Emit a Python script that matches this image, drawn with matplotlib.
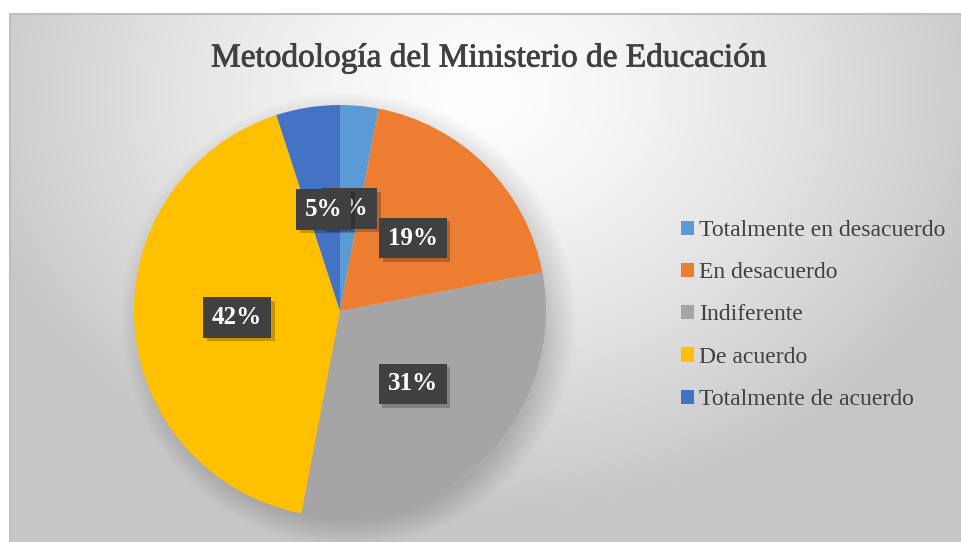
import numpy as np
import matplotlib
matplotlib.use('Agg')
import matplotlib.pyplot as plt
import matplotlib.patheffects as pe

plt.rcParams['font.family'] = ['Liberation Serif', 'DejaVu Serif']

# datos
categorias = ['Totalmente en desacuerdo', 'En desacuerdo', 'Indiferente',
              'De acuerdo', 'Totalmente de acuerdo']
porcentajes = [3, 19, 31, 42, 5]
colores = ['#5B9BD5', '#ED7D31', '#A5A5A5', '#FFC000', '#4472C4']
titulo = 'Metodología del Ministerio de Educación'

W, H = 962, 542
fig = plt.figure(figsize=(W / 100, H / 100), dpi=100)
fig.patch.set_facecolor('white')

# fondo con degradado radial
bg = fig.add_axes([10 / W, 0, (W - 10) / W, (H - 14) / H])
bg.set_zorder(0)
yy, xx = np.mgrid[0:H - 14, 0:W - 10]
d = np.sqrt(((xx - 470) / 1.25) ** 2 + (yy - 80) ** 2)
g = 1.0 - 0.22 * np.clip(d / 420, 0, 1) ** 1.3
bg.imshow(np.dstack([g, g, g]), aspect='auto', interpolation='bilinear')
bg.set_axis_off()
fig.add_artist(plt.Line2D([10 / W, 10 / W, 1], [0, (H - 14) / H, (H - 14) / H],
                          color='#bfbfbf', lw=1.5, transform=fig.transFigure))

# tarta
cx, cy, r = 340, 311, 206
ax = fig.add_axes([(cx - r) / W, (H - cy - r) / H, 2 * r / W, 2 * r / H])
ax.set_zorder(1)
ax.patch.set_alpha(0)

# sombra suave (abajo a la derecha)
for k in range(12):
    sh = plt.Circle((0.04, -0.04), 0.97 + 0.012 * k, color='black',
                    alpha=0.013, lw=0, zorder=0, clip_on=False)
    ax.add_patch(sh)

wedges, texts, autotexts = ax.pie(porcentajes, colors=colores, startangle=90,
                                  counterclock=False, radius=1,
                                  autopct='%1.0f%%', pctdistance=0.5,
                                  wedgeprops=dict(linewidth=0, clip_on=False),
                                  textprops=dict(color='white', fontsize=18,
                                                 fontweight='bold'))
for t in autotexts:
    t.set_bbox(dict(boxstyle='square,pad=0.35', facecolor='#404040',
                    edgecolor='none'))
    t.get_bbox_patch().set_path_effects([
        pe.SimplePatchShadow(offset=(2.5, -2.5), shadow_rgbFace='black', alpha=0.22),
        pe.Normal()])
ax.set_xlim(-1, 1)
ax.set_ylim(-1, 1)
ax.set_aspect('auto')
ax.set_axis_off()

# titulo
fig.text(489 / W, 1 - 58 / H, titulo, ha='center', va='center',
         fontsize=24, color='#404040',
         path_effects=[pe.withStroke(linewidth=0.6, foreground='#404040')])

# leyenda
leg = fig.legend(wedges, categorias, loc='center left',
                 bbox_to_anchor=(660 / W, 1 - 315 / H), frameon=False,
                 fontsize=17, labelcolor='#404040', handlelength=0.55,
                 handleheight=0.55, handletextpad=0.2, labelspacing=0.9)

fig.savefig('out.png', dpi=100)
